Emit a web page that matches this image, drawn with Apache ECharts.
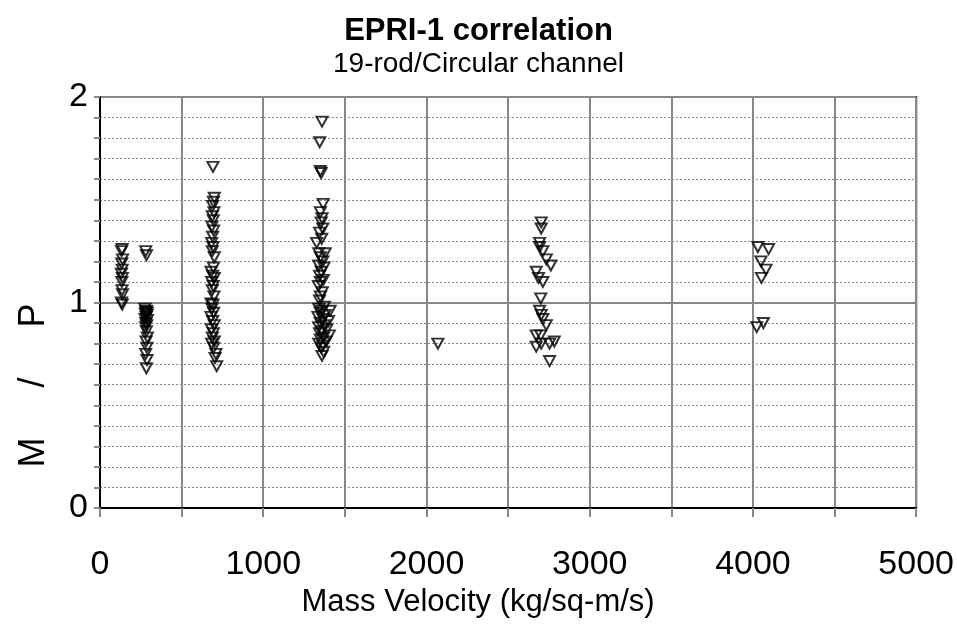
<!DOCTYPE html>
<html>
<head>
<meta charset="utf-8">
<script src="https://cdn.jsdelivr.net/npm/echarts@6/dist/echarts.min.js"></script>
<style>
  html, body { margin: 0; padding: 0; background: #fff; }
  #chart { width: 957px; height: 627px; }
</style>
</head>
<body>
<div id="chart"></div>
<script>
// mass velocity (kg/sq-m/s) and M/P ratio
const massVelocity = [
  135, 132, 138, 133, 136, 131, 137, 134, 135, 138, 132, 136,
  280, 285,
  275, 285, 280, 290, 278, 288, 283, 276, 291, 281, 286, 279, 284, 290, 282, 287, 280, 288, 284,
  692, 700, 695, 690, 698, 688, 694, 686, 696, 690, 684, 692, 688, 700, 695, 680, 690, 700, 684, 694,
  688, 698, 680, 692, 686, 696, 680, 690, 700, 682, 694, 688, 700, 684, 696, 710, 705, 715,
  1360, 1346, 1350, 1355, 1367, 1350, 1360, 1355, 1365, 1345, 1358, 1327, 1340, 1380, 1350, 1365, 1340,
  1372, 1355, 1345, 1368, 1350, 1338, 1362, 1350, 1345, 1375, 1410, 1340, 1360, 1350, 1380, 1335, 1365,
  1400, 1350, 1375, 1340, 1390, 1360, 1345, 1405, 1370, 1350, 1385, 1340, 1365, 1355, 1370, 1360,
  2070,
  2703, 2703, 2693, 2693, 2713, 2734, 2762, 2672, 2686, 2713, 2700, 2693, 2703, 2713, 2734, 2672, 2700,
  2672, 2703, 2754, 2783, 2754,
  4030, 4096, 4049, 4080, 4052, 4064, 4023
];
const mOverP = [
  1.26, 1.25, 1.21, 1.19, 1.16, 1.14, 1.12, 1.10, 1.06, 1.04, 1.00, 0.99,
  1.25, 1.23,
  0.97, 0.96, 0.955, 0.95, 0.945, 0.94, 0.93, 0.92, 0.915, 0.90, 0.89, 0.88, 0.86, 0.83, 0.81, 0.78, 0.75, 0.72, 0.68,
  1.66, 1.51, 1.49, 1.47, 1.44, 1.42, 1.40, 1.37, 1.35, 1.32, 1.29, 1.27, 1.25, 1.22, 1.17, 1.15, 1.13, 1.12, 1.10, 1.08,
  1.06, 1.03, 0.995, 0.99, 0.97, 0.95, 0.93, 0.91, 0.89, 0.87, 0.85, 0.83, 0.81, 0.80, 0.78, 0.75, 0.73, 0.69,
  1.88, 1.78, 1.64, 1.63, 1.48, 1.44, 1.41, 1.39, 1.36, 1.34, 1.31, 1.29, 1.24, 1.24, 1.22, 1.20, 1.18,
  1.17, 1.15, 1.13, 1.11, 1.10, 1.08, 1.05, 1.03, 1.01, 0.98, 0.96, 0.97, 0.96, 0.95, 0.94, 0.93, 0.92,
  0.91, 0.90, 0.89, 0.88, 0.87, 0.86, 0.85, 0.84, 0.83, 0.82, 0.81, 0.80, 0.79, 0.78, 0.76, 0.74,
  0.80,
  1.39, 1.36, 1.29, 1.27, 1.25, 1.21, 1.18, 1.15, 1.12, 1.10, 1.02, 0.96, 0.94, 0.92, 0.89, 0.84, 0.84,
  0.785, 0.80, 0.80, 0.81, 0.715,
  1.27, 1.26, 1.20, 1.16, 1.12, 0.90, 0.88
];
const xLabels = [0, 1000, 2000, 3000, 4000, 5000];
const yLabels = [0, 1, 2];

const font = '"Liberation Sans", Arial, sans-serif';
const points = massVelocity.map((x, i) => [x, mOverP[i]]);

const myCharts = echarts.init(document.getElementById('chart'));
myCharts.setOption({
  backgroundColor: '#fff',
  animation: false,
  title: {
    text: 'EPRI-1 correlation',
    subtext: '19-rod/Circular channel',
    left: 'center',
    top: 11,
    itemGap: 3,
    textStyle: { fontFamily: font, fontWeight: 'bold', fontSize: 31, color: '#000' },
    subtextStyle: { fontFamily: font, fontSize: 28, color: '#000' }
  },
  grid: {
    left: 100,
    right: 40,
    top: 97,
    bottom: 119,
    show: true,
    borderColor: '#000',
    borderWidth: 2
  },
  xAxis: {
    type: 'value',
    min: 0,
    max: 5000,
    interval: 500,
    name: 'Mass Velocity (kg/sq-m/s)',
    nameLocation: 'middle',
    nameGap: 76,
    nameTextStyle: { fontFamily: font, fontSize: 31, color: '#000', padding: [0, 60, 0, 0] },
    axisLine: { show: true, lineStyle: { color: '#000', width: 2 } },
    axisTick: { show: true, length: 9, lineStyle: { color: '#888', width: 2 } },
    axisLabel: {
      margin: 40,
      fontFamily: font,
      fontSize: 34,
      color: '#000',
      formatter: v => (xLabels.includes(v) ? String(v) : '')
    },
    splitLine: { show: true, lineStyle: { color: '#888', width: 2 } }
  },
  yAxis: {
    type: 'value',
    min: 0,
    max: 2,
    interval: 1,
    name: 'M     /     P',
    nameLocation: 'middle',
    nameGap: 48,
    nameTextStyle: { fontFamily: font, fontSize: 36, color: '#000', padding: [0, 166, 0, 0] },
    axisLine: { show: true, lineStyle: { color: '#000', width: 2 } },
    axisTick: { show: true, length: 6, lineStyle: { color: '#888', width: 2 } },
    minorTick: { show: true, splitNumber: 10, length: 6, lineStyle: { color: '#888', width: 2 } },
    axisLabel: {
      margin: 12,
      fontFamily: font,
      fontSize: 34,
      color: '#000',
      formatter: v => (yLabels.includes(v) ? String(v) : '')
    },
    splitLine: { show: true, lineStyle: { color: '#888', width: 2 } },
    minorSplitLine: { show: true, lineStyle: { color: '#888', width: 1, type: [2, 2] } }
  },
  series: [
    {
      name: 'M/P',
      type: 'scatter',
      symbol: 'triangle',
      symbolRotate: 180,
      symbolSize: [11, 10],
      itemStyle: { color: 'rgba(0,0,0,0)', borderColor: '#000', borderWidth: 2 },
      data: points
    }
  ]
});
</script>
</body>
</html>
